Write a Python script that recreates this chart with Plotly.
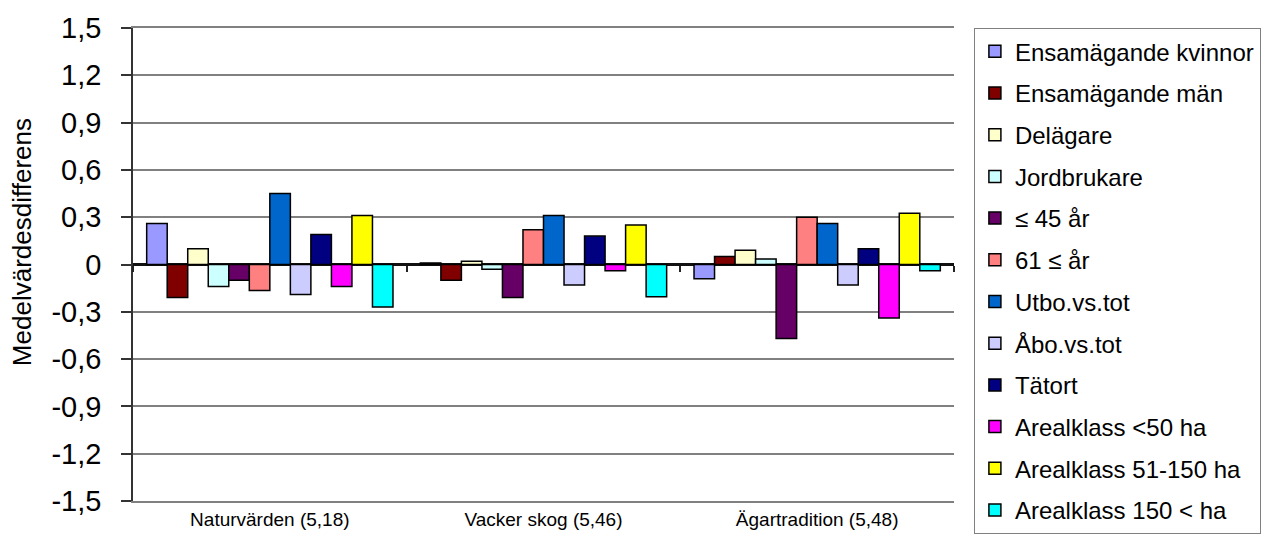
import plotly.graph_objects as go

# Categories (question, overall mean)
categories = ["Naturvärden (5,18)", "Vacker skog (5,46)", "Ägartradition (5,48)"]

# Owner groups shown as bar series
series_names = [
    "Ensamägande kvinnor",
    "Ensamägande män",
    "Delägare",
    "Jordbrukare",
    "≤ 45 år",
    "61 ≤ år",
    "Utbo.vs.tot",
    "Åbo.vs.tot",
    "Tätort",
    "Arealklass <50 ha",
    "Arealklass 51-150 ha",
    "Arealklass 150 < ha",
]

# Mean difference per group, one value per category
ensam_kvinnor = [0.26, 0.01, -0.09]
ensam_man = [-0.21, -0.10, 0.05]
delagare = [0.10, 0.02, 0.09]
jordbrukare = [-0.14, -0.03, 0.035]
upp_till_45 = [-0.10, -0.21, -0.47]
fran_61 = [-0.165, 0.22, 0.30]
utbo = [0.45, 0.31, 0.26]
abo = [-0.19, -0.13, -0.13]
tatort = [0.19, 0.18, 0.10]
areal_under_50 = [-0.14, -0.04, -0.34]
areal_51_150 = [0.31, 0.25, 0.325]
areal_over_150 = [-0.27, -0.205, -0.04]

series_values = [
    ensam_kvinnor, ensam_man, delagare, jordbrukare, upp_till_45, fran_61,
    utbo, abo, tatort, areal_under_50, areal_51_150, areal_over_150,
]

series_colors = [
    "#9999FF", "#800000", "#FFFFCC", "#CCFFFF", "#660066", "#FF8080",
    "#0066CC", "#CCCCFF", "#000080", "#FF00FF", "#FFFF00", "#00FFFF",
]

# Y axis ticks with Swedish decimal comma
y_tick_values = [-1.5, -1.2, -0.9, -0.6, -0.3, 0, 0.3, 0.6, 0.9, 1.2, 1.5]
y_tick_labels = ["-1,5", "-1,2", "-0,9", "-0,6", "-0,3", "0", "0,3", "0,6", "0,9", "1,2", "1,5"]

y_title = "Medelvärdesdifferens"

FONT = "Liberation Sans, Arial, sans-serif"

fig = go.Figure()
for i, (name, vals, col) in enumerate(zip(series_names, series_values, series_colors)):
    fig.add_trace(go.Bar(
        x=categories,
        y=vals,
        name=name,
        legendgroup=f"g{i}",
        marker=dict(color=col, line=dict(color="black", width=1.5)),
    ))

# Invisible helper trace so the boundary-tick axis at y = 0 is drawn
fig.add_trace(go.Scatter(
    x=[-0.5, 2.5], y=[0, 0], xaxis="x2", mode="lines",
    line=dict(width=0), hoverinfo="skip", showlegend=False,
))

# Vertical axis title, placed in the left margin
fig.add_annotation(
    text=y_title, textangle=-90,
    xref="paper", yref="paper", x=-0.136, y=0.548,
    xanchor="center", yanchor="middle", showarrow=False,
    font=dict(size=26, family=FONT, color="black"),
)

fig.update_layout(
    width=1273,
    height=545,
    margin=dict(l=133, r=307, t=25, b=44),
    paper_bgcolor="white",
    plot_bgcolor="white",
    font=dict(family=FONT, color="black"),
    barmode="group",
    bargap=0.1,
    bargroupgap=0,
    showlegend=True,
    legend=dict(
        x=1.024, xanchor="left",
        y=1.0, yanchor="top",
        bordercolor="#808080", borderwidth=1.2,
        font=dict(size=24, family=FONT),
        tracegroupgap=7.5,
        itemclick=False,
        maxheight=520,
    ),
    xaxis=dict(
        type="category",
        range=[-0.5, 2.5],
        showgrid=False,
        showline=True, linecolor="#808080", linewidth=1.5, mirror=True,
        ticks="",
        tickfont=dict(size=19, family=FONT),
    ),
    xaxis2=dict(
        overlaying="x",
        anchor="free",
        position=0.5,
        range=[-0.5, 2.5],
        tickvals=[-0.5, 0.5, 1.5, 2.5],
        ticks="outside", ticklen=6, tickwidth=1.5, tickcolor="#222222",
        showticklabels=False,
        showgrid=False, showline=False, zeroline=False,
    ),
    yaxis=dict(
        range=[-1.5, 1.5],
        tickvals=y_tick_values,
        ticktext=y_tick_labels,
        tickfont=dict(size=29, family=FONT),
        ticks="outside", ticklen=10, tickwidth=1.5, tickcolor="#333333",
        ticklabelstandoff=14,
        showgrid=True, gridcolor="#808080", gridwidth=1.5,
        showline=True, linecolor="#333333", linewidth=1.5,
        zeroline=True, zerolinecolor="#111111", zerolinewidth=2.5,
    ),
)

fig.write_html("out.html")
